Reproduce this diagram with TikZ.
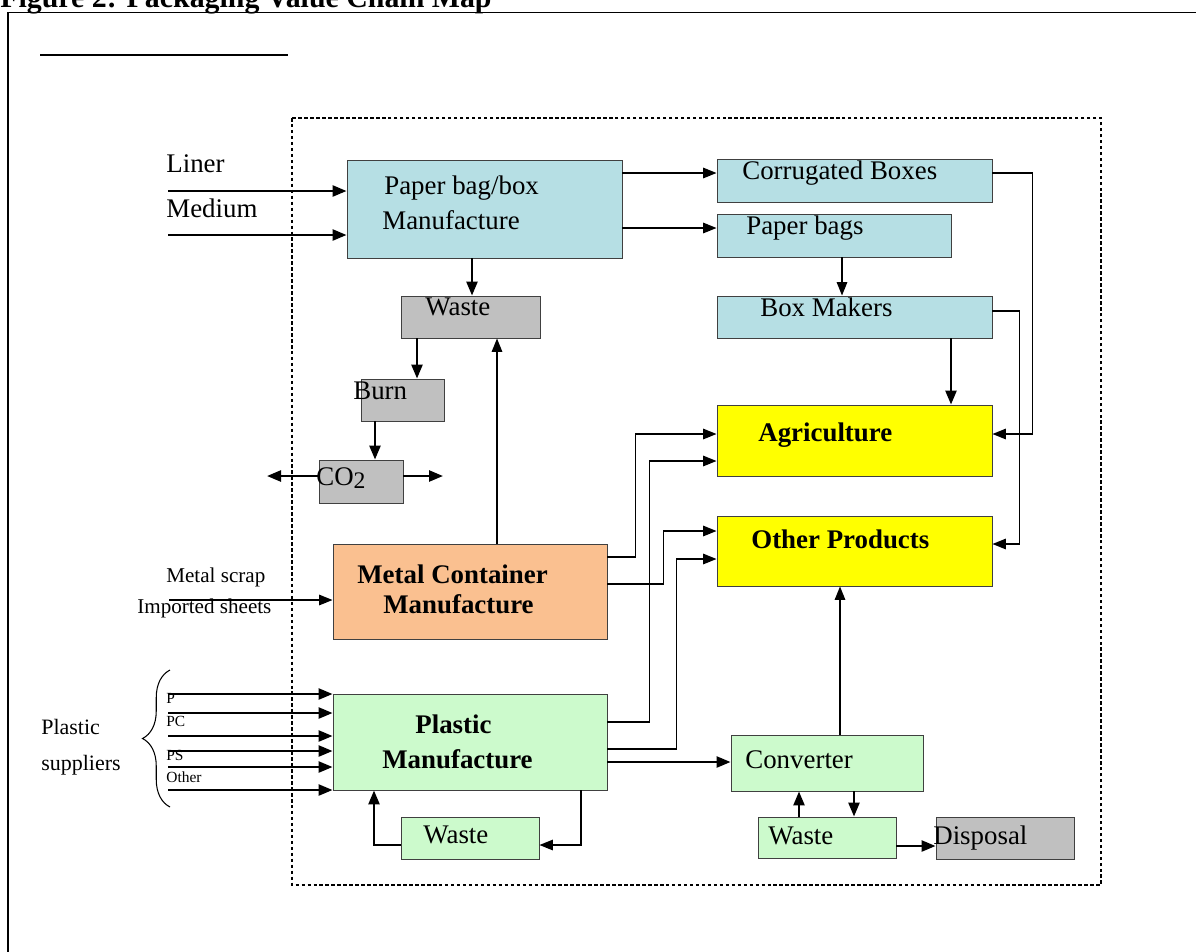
\documentclass[tikz,border=0pt]{standalone}
\usepackage{fontspec}
\setmainfont{Liberation Serif}
\usetikzlibrary{arrows.meta, positioning, calc, fit, decorations.pathreplacing}
\definecolor{paperblue}{RGB}{182,223,228}
\definecolor{wastegray}{RGB}{192,192,192}
\definecolor{metalorange}{RGB}{250,192,144}
\definecolor{plasticgreen}{RGB}{204,250,204}
\definecolor{marketyellow}{RGB}{255,255,0}
\tikzset{
  box/.style={rectangle, draw=black!75, line width=0.5pt, inner sep=0pt},
  txt/.style={anchor=base west, inner sep=0pt, font=\fontsize{15.3}{18}\selectfont},
  btxt/.style={txt, font=\fontsize{15.3}{18}\selectfont\bfseries},
  sidetxt/.style={txt, font=\fontsize{12}{14}\selectfont},
  smalltxt/.style={txt, font=\fontsize{8.8}{10}\selectfont},
  arrow/.style={-{Triangle[length=0.28cm, width=0.22cm]}, line width=1.4pt},
  thinarrow/.style={-{Triangle[length=0.27cm, width=0.21cm]}, line width=0.85pt}
}

\begin{document}
\begin{tikzpicture}[x=0.02cm, y=-0.02cm]
  \useasboundingbox (0,0) rectangle (1196,951);

  % Frame and title
  \node[txt, font=\fontsize{17}{20}\selectfont\bfseries] (title) at (0,7) {Figure 2: Packaging Value Chain Map};
  \draw[line width=0.9pt] (8,960) -- (8,12.5) -- (1200,12.5);
  \draw[line width=0.8pt] (40,55) -- (288,55);
  \draw[dashed, dash pattern=on 2pt off 1.4pt, line width=0.6pt] (292,118) rectangle (1101,885);

  % Paper chain
  \node[box, fill=paperblue, fit={(347,160) (622,258)}] (pbm) {};
  \node[box, fill=paperblue, fit={(717,159) (992,202)}] (corr) {};
  \node[box, fill=paperblue, fit={(717,214) (951,257)}] (pbags) {};
  \node[box, fill=paperblue, fit={(717,296) (992,338)}] (boxm) {};
  \node[box, fill=wastegray, fit={(401,296) (540,338)}] (pwaste) {};
  \node[box, fill=wastegray, fit={(361,379) (444,421)}] (burn) {};
  \node[box, fill=wastegray, fit={(319,460) (403,503)}] (co2) {};

  % Markets
  \node[box, fill=marketyellow, fit={(717,405) (992,476)}] (agri) {};
  \node[box, fill=marketyellow, fit={(717,516) (992,586)}] (other) {};

  % Metal and plastic chain
  \node[box, fill=metalorange, fit={(333,544) (607,639)}] (metal) {};
  \node[box, fill=plasticgreen, fit={(333,694) (607,790)}] (plast) {};
  \node[box, fill=plasticgreen, fit={(401,817) (539,859)}] (plwaste) {};
  \node[box, fill=plasticgreen, fit={(731,735) (923,791)}] (conv) {};
  \node[box, fill=plasticgreen, fit={(758,817) (896,858)}] (cwaste) {};
  \node[box, fill=wastegray, fit={(936,817) (1074,859)}] (disp) {};

  % Free ends
  \coordinate (liner) at (168,191);
  \coordinate (medium) at (168,235);
  \coordinate (scrap) at (169,600);
  \coordinate (co2l) at (267,476);
  \coordinate (co2r) at (443,476);

  % Connections
  \draw[arrow] (liner) -- (liner -| pbm.west);
  \draw[arrow] (medium) -- (medium -| pbm.west);
  \draw[thinarrow] (pbm.east |- 0,173) -- (corr.west |- 0,173);
  \draw[thinarrow] (pbm.east |- 0,228) -- (pbags.west |- 0,228);
  \draw[arrow] (472,0 |- pbm.south) -- (472,0 |- pwaste.north);
  \draw[arrow] (417,0 |- pwaste.south) -- (417,0 |- burn.north);
  \draw[arrow] (375,0 |- burn.south) -- (375,0 |- co2.north);
  \draw[arrow] (co2.west |- co2l) -- (co2l);
  \draw[arrow] (co2.east |- co2r) -- (co2r);
  \draw[thinarrow] (842,0 |- pbags.south) -- (842,0 |- boxm.north);
  \draw[arrow] (951,0 |- boxm.south) -- (951,0 |- agri.north);
  \draw[thinarrow] (corr.east |- 0,173) -- ++(40,0) |- (agri.east |- 0,434);
  \draw[thinarrow] (boxm.east |- 0,311) -- ++(27,0) |- (other.east |- 0,544);

  \draw[thinarrow] (scrap) -- (scrap -| metal.west);
  \draw[thinarrow] (497,0 |- metal.north) -- (497,0 |- pwaste.south);
  \draw[thinarrow] (metal.east |- 0,557) -- ++(28,0) |- (agri.west |- 0,434);
  \draw[thinarrow] (plast.east |- 0,722) -- ++(42,0) |- (agri.west |- 0,461);
  \draw[thinarrow] (metal.east |- 0,584) -- ++(56,0) |- (other.west |- 0,531);
  \draw[thinarrow] (plast.east |- 0,749) -- ++(69,0) |- (other.west |- 0,559);

  \foreach \yin in {694,713,736,751,767,790}
    \draw[arrow] (168,\yin) -- (plast.west |- 0,\yin);
  \draw[arrow] (plast.east |- 0,762) -- (conv.west |- 0,762);
  \draw[thinarrow] (840,0 |- conv.north) -- (840,0 |- other.south);
  \draw[thinarrow] (581,0 |- plast.south) |- (plwaste.east |- 0,845);
  \draw[arrow] (plwaste.west |- 0,845) -| (374,0 |- plast.south);
  \draw[arrow] (799,0 |- cwaste.north) -- (799,0 |- conv.south);
  \draw[arrow] (854,0 |- conv.south) -- (854,0 |- cwaste.north);
  \draw[arrow] (cwaste.east |- 0,846) -- (disp.west |- 0,846);

  % Brace for suppliers
  \draw[decorate, decoration={brace, amplitude=0.55cm}, line width=0.6pt] (170,807) -- (170,670);

  % Labels
  \node[txt] (linerlbl) at (166,172) {Liner};
  \node[txt] (mediumlbl) at (166,217) {Medium};
  \node[txt] (pbmlbl1) at (384,194) {Paper bag/box};
  \node[txt] (pbmlbl2) at (382,229) {Manufacture};
  \node[txt] (corrlbl) at (742,179) {Corrugated Boxes};
  \node[txt] (pbagslbl) at (746,234) {Paper bags};
  \node[txt] (boxmlbl) at (760,316) {Box Makers};
  \node[txt] (pwastelbl) at (425,315) {Waste};
  \node[txt] (burnlbl) at (353,399) {Burn};
  \node[txt] (co2lbl) at (316,485) {CO\raisebox{-0.3ex}{\fontsize{13.5}{14}\selectfont 2}};
  \node[btxt] (agrilbl) at (758,441) {Agriculture};
  \node[btxt] (otherlbl) at (751,548) {Other Products};
  \node[sidetxt] (scraplbl) at (166,582) {Metal scrap};
  \node[sidetxt] (sheetlbl) at (137,613) {Imported sheets};
  \node[btxt] (metallbl1) at (357,583) {Metal Container};
  \node[btxt] (metallbl2) at (383,613) {Manufacture};
  \node[btxt] (plastlbl1) at (415,733) {Plastic};
  \node[btxt] (plastlbl2) at (382,768) {Manufacture};
  \node[sidetxt, font=\fontsize{12.5}{14}\selectfont] (supplbl1) at (41,734) {Plastic};
  \node[sidetxt, font=\fontsize{12.5}{14}\selectfont] (supplbl2) at (41,770) {suppliers};
  \node[smalltxt] (plbl) at (166,703) {P};
  \node[smalltxt] (pclbl) at (166,726) {PC};
  \node[smalltxt] (pslbl) at (166,760) {PS};
  \node[smalltxt] (otherin) at (166,782) {Other};
  \node[txt] (convlbl) at (745,768) {Converter};
  \node[txt] (plwastelbl) at (423,843) {Waste};
  \node[txt] (cwastelbl) at (768,844) {Waste};
  \node[txt] (displbl) at (933,844) {Disposal};
\end{tikzpicture}
\end{document}
